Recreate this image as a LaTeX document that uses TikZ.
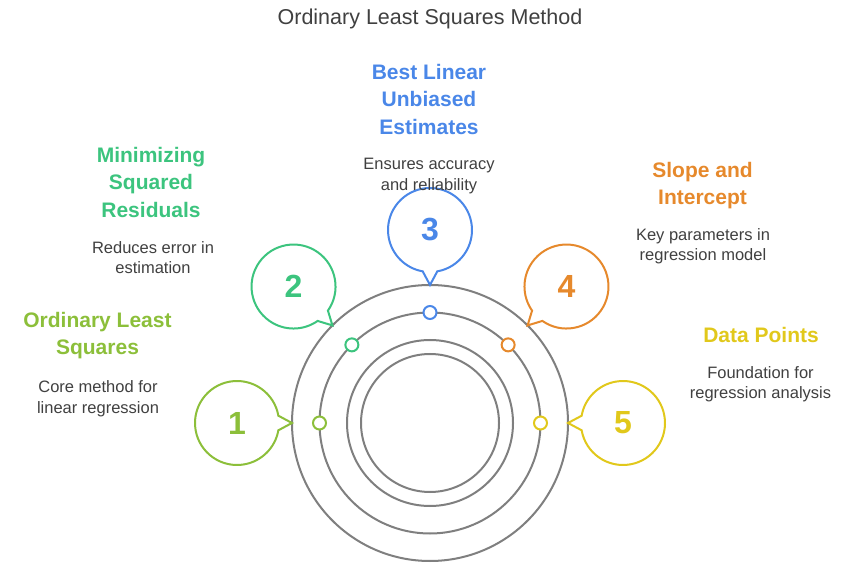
\documentclass[tikz,border=0pt]{standalone}
\usepackage{fontspec}
\setmainfont{Liberation Sans}
\usepackage{tikz}
\usetikzlibrary{calc}

\definecolor{cOne}{HTML}{8CBF3A}
\definecolor{cTwo}{HTML}{3CC47E}
\definecolor{cThree}{HTML}{4A87E8}
\definecolor{cFour}{HTML}{E6892C}
\definecolor{cFive}{HTML}{E1C81B}
\definecolor{ringgray}{HTML}{7F7F7F}
\definecolor{textgray}{HTML}{404040}

\begin{document}
\begin{tikzpicture}[x=1pt, y=1pt,
    ring/.style={draw=ringgray, line width=2pt},
    dot/.style={circle, draw=#1, fill=white, line width=2pt, inner sep=0pt,
        minimum size=13pt},
    num/.style={text=#1, font=\fontsize{32}{32}\selectfont\bfseries},
    head/.style={text=#1, font=\fontsize{21}{27.5}\selectfont\bfseries,
        align=center, anchor=north, inner sep=0pt},
    desc/.style={text=textgray, font=\fontsize{16.5}{20.5}\selectfont,
        align=center, anchor=north, inner sep=0pt}]
    \useasboundingbox (0,0) rectangle (858,578);
    \coordinate (c) at (430,155);

    \node[text=textgray, font=\fontsize{21.5}{26}\selectfont, anchor=base] (title)
        at (430,553) {Ordinary Least Squares Method};

    % rings
    \foreach \r in {138,110.5,83,69}
        \draw[ring] (c) circle[radius=\r];

    % bubbles
    \foreach \i/\a/\col in {1/180/cOne, 2/135/cTwo, 3/90/cThree, 4/45/cFour, 5/0/cFive}{
        \coordinate (t\i) at ($(c)+(\a:138)$);
        \coordinate (p\i) at ($(c)+(\a:193)$);
        \node[dot=\col] (d\i) at ($(c)+(\a:110.5)$) {};
        \draw[draw=\col, line width=2pt, fill=white]
            ($(p\i)+(\a+190:42)$) arc[start angle=\a+190, end angle=\a+530, radius=42]
            -- (t\i) -- cycle;
        \node[num=\col] (b\i) at (p\i) {\i};
    }

    % labels
    \node[head=cOne] (h1) at (97.5,266.3) {Ordinary Least\\Squares};
    \node[desc] (s1) at (98,197.3) {Core method for\\linear regression};
    \node[head=cTwo] (h2) at (151,431.3) {Minimizing\\Squared\\Residuals};
    \node[desc] (s2) at (153,336.7) {Reduces error in\\estimation};
    \node[head=cThree] (h3) at (429,514) {Best Linear\\Unbiased\\Estimates};
    \node[desc] (s3) at (429,420) {Ensures accuracy\\and reliability};
    \node[head=cFour] (h4) at (702.5,416.3) {Slope and\\Intercept};
    \node[desc] (s4) at (703,350) {Key parameters in\\regression model};
    \node[head=cFive] (h5) at (761,251.3) {Data Points};
    \node[desc] (s5) at (760.5,211.7) {Foundation for\\regression analysis};
\end{tikzpicture}
\end{document}
